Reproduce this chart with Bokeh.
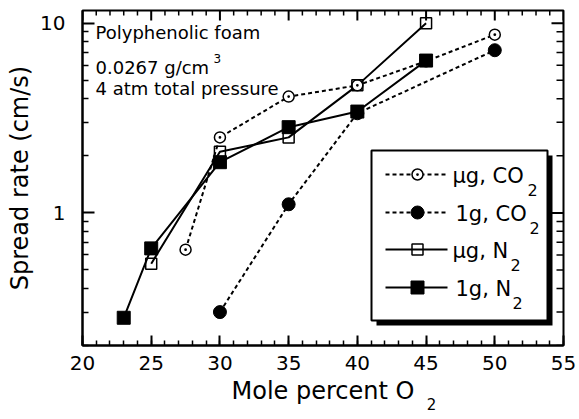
import math
from bokeh.plotting import figure
from bokeh.models import (FixedTicker, SingleIntervalTicker, Label, Range1d, CustomJSTickFormatter,
                          LinearAxis)
from bokeh.embed import file_html
from bokeh.resources import INLINE

# ---------------- data ----------------
o2_mug_co2 = [27.5, 30, 35, 40, 45, 50]
rate_mug_co2 = [0.64, 2.5, 4.1, 4.7, 6.3, 8.7]

o2_1g_co2 = [30, 35, 40, 50]
rate_1g_co2 = [0.30, 1.11, 3.35, 7.2]

o2_mug_n2 = [25, 30, 35, 40, 45]
rate_mug_n2 = [0.54, 2.1, 2.5, 4.7, 10.0]

o2_1g_n2 = [23, 25, 30, 35, 40, 45]
rate_1g_n2 = [0.28, 0.65, 1.85, 2.83, 3.42, 6.35]

x_major_ticks = [20, 25, 30, 35, 40, 45, 50, 55]
x_minor_ticks = [x for x in range(20, 56) if x % 5 != 0]
y_major_ticks = [1, 10]
y_minor_ticks = [0.2, 0.3, 0.4, 0.5, 0.6, 0.7, 0.8, 0.9, 2, 3, 4, 5, 6, 7, 8, 9]

legend_texts = ["\u03bcg, CO", "1g, CO", "\u03bcg, N", "1g, N"]
note_lines = ["Polyphenolic foam", "0.0267 g/cm", "4 atm total pressure"]

XMIN, XMAX = 20, 55
YMIN, YMAX = 0.2, 11.66

FONT = "DejaVu Sans"

# ---------------- figure ----------------
W, H = 579, 419
BL, BR, BT, BB = 82, 16, 10, 74
p = figure(width=W, height=H, x_range=Range1d(XMIN, XMAX), y_range=Range1d(YMIN, YMAX),
           y_axis_type="log", output_backend="svg", toolbar_location=None,
           min_border_left=BL, min_border_right=BR, min_border_top=BT, min_border_bottom=BB,
           background_fill_color="white", border_fill_color="white")
p.outline_line_color = "black"
p.outline_line_width = 2
p.xgrid.visible = False
p.ygrid.visible = False

# image-pixel -> data helpers (frame: x 82..563, y 10..345)
FX0, FX1, FY0, FY1 = BL, W - BR, BT, H - BB


def dx(px):
    return XMIN + (px - FX0) / (FX1 - FX0) * (XMAX - XMIN)


def dy(py):
    lo, hi = math.log10(YMIN), math.log10(YMAX)
    return 10 ** (lo + (FY1 - py) / (FY1 - FY0) * (hi - lo))


def style_axis(ax, major_in, minor_in):
    ax.axis_line_width = 2
    ax.axis_line_color = "black"
    ax.major_tick_in = major_in
    ax.major_tick_out = 0
    ax.minor_tick_in = minor_in
    ax.minor_tick_out = 0
    ax.major_tick_line_width = 2
    ax.minor_tick_line_width = 1.5
    ax.major_tick_line_color = "black"
    ax.minor_tick_line_color = "black"


xa = p.below[0]
xa.ticker = SingleIntervalTicker(interval=5, num_minor_ticks=5)
style_axis(xa, 10, 5)
xa.major_label_text_font = FONT
xa.major_label_text_font_size = "20px"
xa.major_label_text_color = "black"
xa.major_label_standoff = 10
xa.axis_label = "Mole percent O"
xa.axis_label_text_font = FONT
xa.axis_label_text_font_size = "24px"
xa.axis_label_text_font_style = "normal"
xa.axis_label_text_color = "black"
xa.axis_label_standoff = 4

# subscript "2" of the x-axis title, set as the single label of a bare second axis
sub_axis = LinearAxis(ticker=FixedTicker(ticks=[dx(431)], minor_ticks=[]),
                      formatter=CustomJSTickFormatter(code="return '2';"))
sub_axis.axis_line_color = None
sub_axis.major_tick_line_color = None
sub_axis.minor_tick_line_color = None
sub_axis.major_tick_in = 0
sub_axis.major_tick_out = 0
sub_axis.minor_tick_in = 0
sub_axis.minor_tick_out = 0
sub_axis.major_label_text_font = FONT
sub_axis.major_label_text_font_size = "15px"
sub_axis.major_label_text_color = "black"
sub_axis.major_label_standoff = -10
p.add_layout(sub_axis, "below")

ya = p.left[0]
ya.ticker = FixedTicker(ticks=y_major_ticks, minor_ticks=y_minor_ticks)
ya.formatter = CustomJSTickFormatter(code="return tick.toString();")
style_axis(ya, 12, 6)
ya.major_label_text_font = FONT
ya.major_label_text_font_size = "20px"
ya.major_label_text_color = "black"
ya.major_label_standoff = 17
ya.axis_label = "Spread rate (cm/s)"
ya.axis_label_text_font = FONT
ya.axis_label_text_font_size = "24px"
ya.axis_label_text_font_style = "normal"
ya.axis_label_text_color = "black"
ya.axis_label_standoff = 3

# inward ticks on the top and right frame edges
n_xmaj, n_xmin = len(x_major_ticks), len(x_minor_ticks)
p.segment(x0=x_major_ticks, x1=x_major_ticks, y0=[YMAX] * n_xmaj, y1=[dy(FY0 + 10)] * n_xmaj,
          line_color="black", line_width=2)
p.segment(x0=x_minor_ticks, x1=x_minor_ticks, y0=[YMAX] * n_xmin, y1=[dy(FY0 + 5)] * n_xmin,
          line_color="black", line_width=1.5)
n_ymaj, n_ymin = len(y_major_ticks), len(y_minor_ticks)
p.segment(x0=[XMAX] * n_ymaj, x1=[dx(FX1 - 12)] * n_ymaj, y0=y_major_ticks, y1=y_major_ticks,
          line_color="black", line_width=2)
p.segment(x0=[XMAX] * n_ymin, x1=[dx(FX1 - 7)] * n_ymin, y0=y_minor_ticks, y1=y_minor_ticks,
          line_color="black", line_width=1.5)

DOT = "4 3"

# ---------------- data lines ----------------
p.line(o2_mug_co2, rate_mug_co2, line_color="black", line_width=2, line_dash=DOT)
p.line(o2_1g_co2, rate_1g_co2, line_color="black", line_width=2, line_dash=DOT)
p.line(o2_mug_n2, rate_mug_n2, line_color="black", line_width=2)
p.line(o2_1g_n2, rate_1g_n2, line_color="black", line_width=2)

styles = [
    dict(marker="circle_dot", size=11, fill_color="white", line_width=1.5),
    dict(marker="circle", size=13, fill_color="black", line_width=1),
    dict(marker="square", size=11, fill_color=None, line_width=1.5),
    dict(marker="square", size=13, fill_color="black", line_width=1),
]
series = [(o2_mug_co2, rate_mug_co2), (o2_1g_co2, rate_1g_co2),
          (o2_mug_n2, rate_mug_n2), (o2_1g_n2, rate_1g_n2)]
for (xs, ys), st in zip(series, styles):
    p.scatter(xs, ys, line_color="black", **st)

# ---------------- legend (drawn by hand) ----------------
p.quad(left=[dx(376)], right=[dx(552)], top=[dy(155)], bottom=[dy(325)],
       fill_color="black", line_color=None)
p.quad(left=[dx(371)], right=[dx(547)], top=[dy(150)], bottom=[dy(320)],
       fill_color="white", line_color="black", line_width=2)

rows = [174, 212, 249, 287]
dashes = [DOT, DOT, "solid", "solid"]
text_x = [452, 455, 452, 455]
sub_x = [527, 529, 510, 512]
for r, st, dsh, txt, tx, sx in zip(rows, styles, dashes, legend_texts, text_x, sub_x):
    p.line([dx(385), dx(447)], [dy(r), dy(r)], line_color="black", line_width=2, line_dash=dsh)
    p.scatter([dx(417)], [dy(r)], line_color="black", **st)
    p.add_layout(Label(x=dx(tx), y=dy(r + 1), text=txt, text_font=FONT,
                       text_font_size="21px", text_color="black", text_baseline="middle"))
    p.add_layout(Label(x=dx(sx), y=dy(r + 15), text="2", text_font=FONT,
                       text_font_size="16px", text_color="black", text_baseline="middle"))

# ---------------- notes ----------------
for txt, mid in zip(note_lines, [31.5, 66.5, 87.5]):
    p.add_layout(Label(x=dx(95), y=dy(mid), text=txt, text_font=FONT,
                       text_font_size="18px", text_color="black", text_baseline="middle"))
p.add_layout(Label(x=dx(213), y=dy(58), text="3", text_font=FONT,
                   text_font_size="12px", text_color="black", text_baseline="middle"))

open("out.html", "w").write(file_html(p, INLINE))
